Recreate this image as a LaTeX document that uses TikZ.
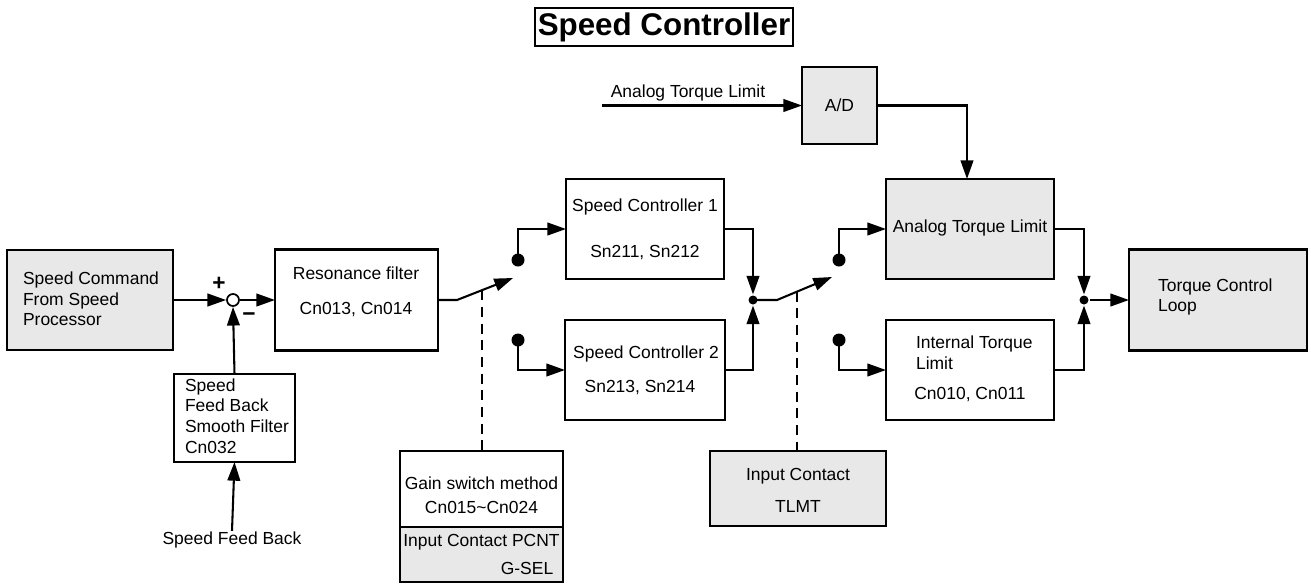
\documentclass[tikz,border=0pt]{standalone}
\usepackage{fontspec}
\setmainfont{Liberation Sans}
\usetikzlibrary{arrows.meta}
\definecolor{boxgray}{RGB}{232,232,232}
\begin{document}
\begin{tikzpicture}[x=0.75pt,y=-0.75pt, line width=1.55pt,
  >={Triangle[length=14pt,width=9.5pt]},
  every node/.style={font=\fontsize{13.1}{15.5}\selectfont},
  box/.style 2 args={draw, inner sep=0pt, outer sep=0pt, minimum width=#1*0.75pt, minimum height=#2*0.75pt},
  gbox/.style 2 args={box={#1}{#2}, fill=boxgray},
  txt/.style={inner sep=0pt},
  sign/.style={inner sep=0pt, font=\fontsize{17}{17}\selectfont\bfseries},
  dot/.style={circle, fill=black, inner sep=0pt, minimum size=13*0.75pt},
  jdot/.style={circle, fill=black, inner sep=0pt, minimum size=9*0.75pt},
  ctl/.style={dashed, dash pattern=on 7.5pt off 5pt, line width=1.3pt},
]
\useasboundingbox (0,0) rectangle (1311,583);

% title
\node[draw, line width=1.7pt, inner sep=0pt, minimum width=258*0.75pt, minimum height=38*0.75pt,
      font=\fontsize{23.5}{27}\selectfont\bfseries] (title) at (664,27) {Speed Controller};

% A/D
\node[gbox={75}{77}] (ad) at (839.5,105.5) {A/D};
\coordinate (atin) at (602,105.5);
\node[txt] (atlab) at (688,93) {Analog Torque Limit};
\coordinate (adc) at (967,0);

% speed command
\node[gbox={166}{100}] (cmd) at (90,300) {};
\node[txt, align=left, anchor=west] (cmdt) at (22,299) {Speed Command\\From Speed\\Processor};

% summing junction
\node[circle, draw, inner sep=0pt, minimum size=12*0.75pt, line width=1.3pt] (sum) at (233,300) {};
\node[sign] (plus) at (219,284) {+};
\node[sign] (minus) at (249,317) {−};

% resonance filter
\node[box={163}{101}] (res) at (356.5,300) {};
\node[txt] (rest1) at (356,273) {Resonance filter};
\node[txt] (rest2) at (356,310) {Cn013, Cn014};

% feedback filter
\node[box={121}{88}] (fb) at (234.5,418) {};
\node[txt, align=left, anchor=west] (fbt) at (184,416) {Speed\\Feed Back\\Smooth Filter\\Cn032};
\node[txt] (sfb) at (232,540) {Speed Feed Back};

% speed controllers
\node[box={158}{100}] (sc1) at (645,229) {};
\node[txt] (sc1a) at (645,207) {Speed Controller 1};
\node[txt] (sc1b) at (645,253) {Sn211, Sn212};
\node[box={160}{100}] (sc2) at (645,370) {};
\node[txt] (sc2a) at (646,354) {Speed Controller 2};
\node[txt] (sc2b) at (640,388) {Sn213, Sn214};

% torque limits
\node[gbox={168}{100}] (atl) at (970,229) {};
\node[txt] (atlt) at (970,228) {Analog Torque Limit};
\node[box={168}{100}] (itl) at (970,370) {};
\node[txt, align=left, anchor=west] (itlt) at (915,353) {Internal Torque\\Limit};
\node[txt] (itlb) at (970,395) {Cn010, Cn011};

% torque control loop
\node[gbox={178}{101}] (tcl) at (1218,300) {};
\node[txt, align=left, anchor=west] (tclt) at (1157,297) {Torque Control\\Loop};

% gain switch
\node[box={163}{76}] (gain) at (481.5,489) {};
\node[txt] (gaint1) at (481.5,483) {Gain switch method};
\node[txt] (gaint2) at (481.5,507) {Cn015\textasciitilde Cn024};
\node[gbox={163}{55}] (pcnt) at (481.5,554.5) {};
\node[txt] (pcntt1) at (481.5,542) {Input Contact PCNT};
\node[txt] (pcntt2) at (527,568) {G-SEL};

% TLMT
\node[gbox={176}{75}] (tlmt) at (798,488.5) {};
\node[txt] (tlmtt1) at (798,476) {Input Contact};
\node[txt] (tlmtt2) at (798,506) {TLMT};

% contacts and junctions
\node[dot] (d1a) at (518,260) {};
\node[dot] (d1b) at (518,340) {};
\node[dot] (d2a) at (839,260) {};
\node[dot] (d2b) at (839,340) {};
\node[jdot] (j1) at (753,300) {};
\node[jdot] (j2) at (1084,300) {};
\coordinate (s1a) at (457,300);
\coordinate (s1b) at (513,278);
\coordinate (s1m) at (482,290.2);
\coordinate (s2a) at (777,300);
\coordinate (s2b) at (832,277);
\coordinate (s2m) at (797,291.6);

% connectors
\draw[->] (atin) -- (ad.west);
\draw[->] (ad.east) -| (adc |- atl.north);
\draw[->] (cmd.east) -- (sum.west);
\draw[->] (sum.east) -- (res.west);
\draw[->] (fb.north) -- (sum.south);
\draw[->] (sfb.north) -- (fb.south);
\draw[->] (res.east) -- (s1a) -- (s1b);
\draw[ctl] (s1m) -- (s1m |- gain.north);
\draw[->] (d1a.center) |- (sc1.west);
\draw[->] (d1b.center) |- (sc2.west);
\draw[->] (sc1.east) -| (j1.north);
\draw[->] (sc2.east) -| (j1.south);
\draw[->] (j1.center) -- (s2a) -- (s2b);
\draw[ctl] (s2m) -- (s2m |- tlmt.north);
\draw[->] (d2a.center) |- (atl.west);
\draw[->] (d2b.center) |- (itl.west);
\draw[->] (atl.east) -| (j2.north);
\draw[->] (itl.east) -| (j2.south);
\draw[->] (j2.east) -- (tcl.west);
\end{tikzpicture}
\end{document}
